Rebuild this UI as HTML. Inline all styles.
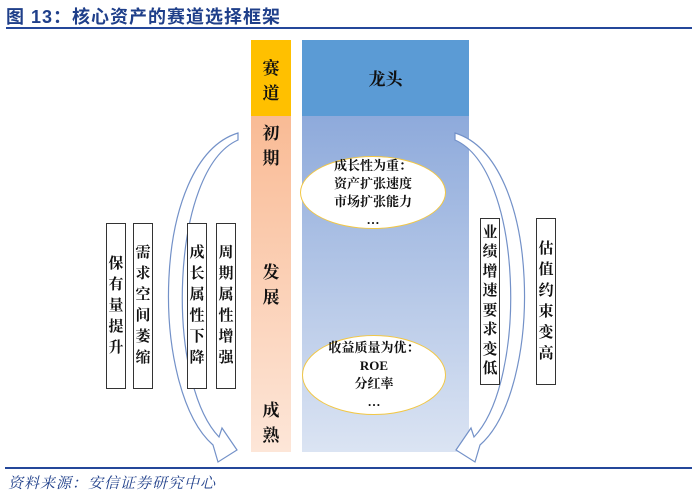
<!DOCTYPE html>
<html><head><meta charset="utf-8"><style>
body{margin:0;width:700px;height:496px;background:#fff;position:relative;overflow:hidden;font-family:"Liberation Serif","Noto Serif CJK SC",serif}
.a{position:absolute}
.title{left:6px;top:3px;font:bold 18px "Liberation Sans","Noto Sans CJK SC",sans-serif;color:#1f3f8a;letter-spacing:1px}
.vt{position:absolute;display:flex;flex-direction:column;align-items:center;justify-content:center;text-align:center;font-weight:bold;font-size:15px;line-height:21px;color:#111}
.box{border:1px solid #333;background:#fff;box-sizing:border-box}
.col{font-size:17px;line-height:25px}
.el{position:absolute;border:1.5px solid #f2c744;border-radius:50%;background:#fff;box-sizing:border-box;display:flex;flex-direction:column;align-items:center;justify-content:center;text-align:center;font-weight:bold;font-size:13px;line-height:18px;color:#111}
</style></head><body>
<div class="a title">图 13：核心资产的赛道选择框架</div>
<div class="a" style="left:6px;top:27px;width:686px;height:2px;background:#24479a"></div>

<div class="a" style="left:251px;top:40px;width:40px;height:76px;background:#ffc000"></div>
<div class="a" style="left:251px;top:116px;width:40px;height:336px;background:linear-gradient(#f9bb95,#fde6d8)"></div>
<div class="a" style="left:302px;top:40px;width:167px;height:76px;background:#5b9bd5"></div>
<div class="a" style="left:302px;top:116px;width:167px;height:336px;background:linear-gradient(#8eaadb,#dbe4f3)"></div>

<div class="vt col" style="left:251px;top:55px;width:40px;height:52px">赛<br>道</div>
<div class="vt col" style="left:251px;top:120px;width:40px;height:52px">初<br>期</div>
<div class="vt col" style="left:251px;top:259px;width:40px;height:52px">发<br>展</div>
<div class="vt col" style="left:251px;top:397px;width:40px;height:52px">成<br>熟</div>
<div class="vt" style="left:302px;top:66px;width:167px;height:26px;font-size:17px">龙头</div>

<div class="el" style="left:300px;top:156px;width:146px;height:73px">成长性为重：<br>资产扩张速度<br>市场扩张能力<br>…</div>
<div class="el" style="left:302px;top:335px;width:144px;height:80px">收益质量为优：<br>ROE<br>分红率<br>…</div>

<svg class="a" style="left:0;top:0" width="700" height="496">
<g fill="#fff" stroke="#7391c8" stroke-width="1.2">
<path id="arr" d="M238,133 C150,160 150,390 213,445 L218,462 L237,450 L222,428 L219,437 C165,380 170,170 238,140 Z"/>
<use href="#arr" transform="translate(693,0) scale(-1,1)"/>
</g>
</svg>

<div class="vt box" style="left:106px;top:223px;width:20px;height:166px">保<br>有<br>量<br>提<br>升</div>
<div class="vt box" style="left:133px;top:223px;width:20px;height:166px">需<br>求<br>空<br>间<br>萎<br>缩</div>
<div class="vt box" style="left:187px;top:223px;width:20px;height:166px">成<br>长<br>属<br>性<br>下<br>降</div>
<div class="vt box" style="left:216px;top:223px;width:20px;height:166px">周<br>期<br>属<br>性<br>增<br>强</div>
<div class="vt box" style="left:480px;top:218px;width:20px;height:167px;line-height:19.5px">业<br>绩<br>增<br>速<br>要<br>求<br>变<br>低</div>
<div class="vt box" style="left:536px;top:218px;width:20px;height:167px">估<br>值<br>约<br>束<br>变<br>高</div>

<div class="a" style="left:5px;top:467px;width:687px;height:2px;background:#24479a"></div>
<div class="a" style="left:8px;top:472px;font-size:15px;font-style:italic;color:#1f3f8a;letter-spacing:1px">资料来源：安信证券研究中心</div>
</body></html>
